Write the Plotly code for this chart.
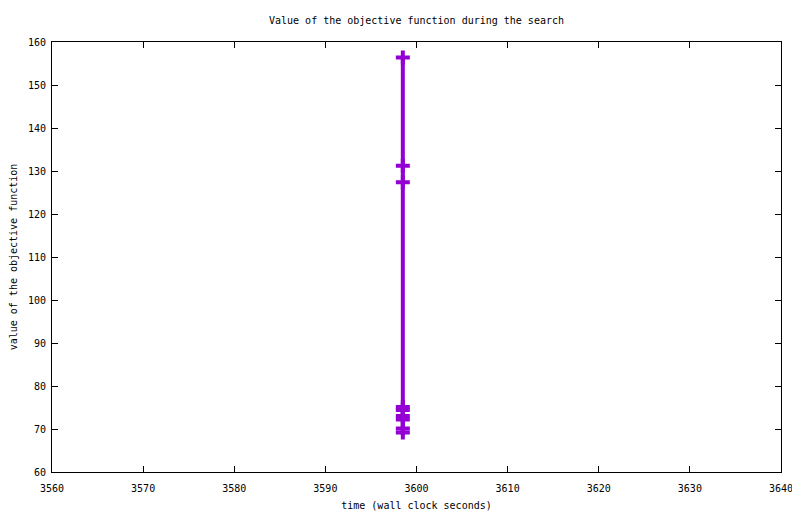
import plotly.graph_objects as go

time_s = [3598.5, 3598.5, 3598.5, 3598.5, 3598.5, 3598.5, 3598.5, 3598.5, 3598.5]
objective = [156.4, 131.2, 127.4, 75.1, 74.4, 73.0, 72.2, 70.1, 69.2]
x_ticks = [3560, 3570, 3580, 3590, 3600, 3610, 3620, 3630, 3640]
y_ticks = [60, 70, 80, 90, 100, 110, 120, 130, 140, 150, 160]

color = "#9400D3"
font = dict(family="DejaVu Sans Mono", size=10, color="black")

# page body has a default 8px margin, so the figure is sized to fit the window
W, H = 792, 506

fig = go.Figure()
fig.add_trace(go.Scatter(
    x=time_s, y=objective, mode="lines+markers",
    line=dict(color=color, width=4),
    marker=dict(symbol="cross-thin", size=10, line=dict(color=color, width=4)),
    showlegend=False,
))

axis_common = dict(
    showgrid=False, zeroline=False, showline=True, linecolor="black", linewidth=1,
    mirror="allticks", ticks="inside", ticklen=6, tickcolor="black", tickwidth=1,
    tickfont=font, automargin=False,
)
fig.update_layout(
    width=W, height=H,
    margin=dict(l=44, r=19, t=34, b=42),
    paper_bgcolor="white", plot_bgcolor="white",
    font=font,
    title=dict(text="Value of the objective function during the search",
               xref="paper", x=0.5, xanchor="center",
               yref="container", y=1 - 12 / H, yanchor="middle", font=font),
    xaxis=dict(range=[3560, 3640], tickvals=x_ticks, ticktext=[str(v) for v in x_ticks],
               ticklabelstandoff=7,
               title=dict(text="time (wall clock seconds)", font=font, standoff=8),
               **axis_common),
    yaxis=dict(range=[60, 160], tickvals=y_ticks, ticktext=[str(v) for v in y_ticks],
               ticklabelstandoff=3,
               title=dict(text="value of the objective function", font=font, standoff=11),
               **axis_common),
)
fig.write_html("out.html")
